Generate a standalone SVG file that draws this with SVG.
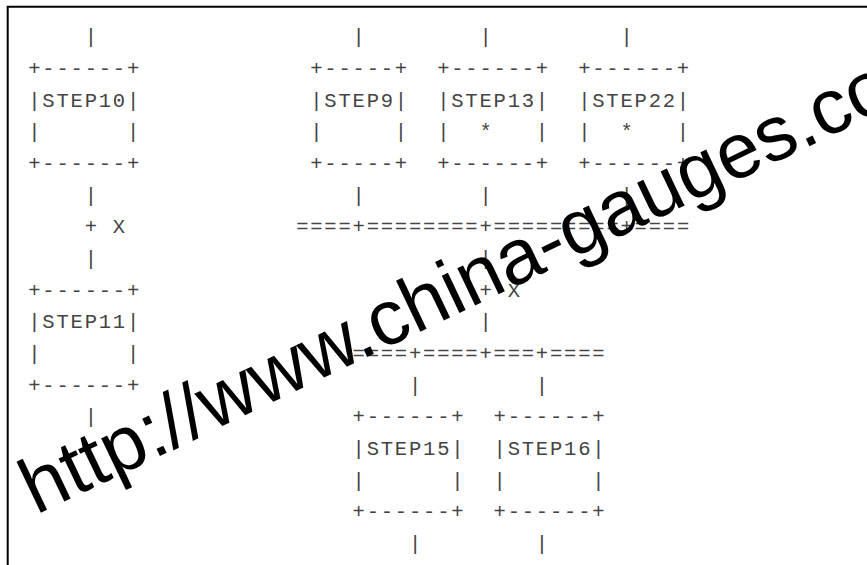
<svg xmlns="http://www.w3.org/2000/svg" width="867" height="565" viewBox="0 0 867 565" xml:space="preserve">
<style>
.t{font-family:"Liberation Mono","Courier New",monospace;font-size:20.5px;letter-spacing:1.8px;fill:#444;white-space:pre}
.wm{font-family:"Liberation Sans",Arial,sans-serif;font-size:78px;fill:#000}
</style>
<rect x="0" y="0" width="867" height="565" fill="#fff"/>
<path d="M7.7,565 V6.7 H867" fill="none" stroke="#000" stroke-width="2"/>
<g transform="translate(1,0)">
<g id="connectors">
<text class="t" x="83.65" y="43.3">|</text>
<text class="t" x="351.55" y="43.3">|</text>
<text class="t" x="478.45" y="43.3">|</text>
<text class="t" x="619.45" y="43.3">|</text>
<text class="t" x="83.65" y="201.7">|</text>
<text class="t" x="351.55" y="201.7">|</text>
<text class="t" x="478.45" y="201.7">|</text>
<text class="t" x="619.45" y="201.7">|</text>
<text class="t" x="83.65" y="233.3">+ X</text>
<text class="t" x="295.15" y="233.3">====+========+=========+====</text>
<text class="t" x="83.65" y="265">|</text>
<text class="t" x="478.45" y="265">|</text>
<text class="t" x="478.45" y="296.7">+ X</text>
<text class="t" x="478.45" y="328.3">|</text>
<text class="t" x="351.55" y="360">====+====+===+====</text>
<text class="t" x="407.95" y="391.7">|</text>
<text class="t" x="534.85" y="391.7">|</text>
<text class="t" x="83.65" y="423.3">|</text>
<text class="t" x="407.95" y="550">|</text>
<text class="t" x="534.85" y="550">|</text>
</g>
<g id="step10">
<text class="t" x="27.25" y="75">+------+</text>
<text class="t" x="27.25" y="106.6">|STEP10|</text>
<text class="t" x="27.25" y="138.3">|      |</text>
<text class="t" x="27.25" y="170">+------+</text>
</g>
<g id="step9">
<text class="t" x="309.25" y="75">+-----+</text>
<text class="t" x="309.25" y="106.6">|STEP9|</text>
<text class="t" x="309.25" y="138.3">|     |</text>
<text class="t" x="309.25" y="170">+-----+</text>
</g>
<g id="step13">
<text class="t" x="436.15" y="75">+------+</text>
<text class="t" x="436.15" y="106.6">|STEP13|</text>
<text class="t" x="436.15" y="138.3">|  *   |</text>
<text class="t" x="436.15" y="170">+------+</text>
</g>
<g id="step22">
<text class="t" x="577.15" y="75">+------+</text>
<text class="t" x="577.15" y="106.6">|STEP22|</text>
<text class="t" x="577.15" y="138.3">|  *   |</text>
<text class="t" x="577.15" y="170">+------+</text>
</g>
<g id="step11">
<text class="t" x="27.25" y="296.7">+------+</text>
<text class="t" x="27.25" y="328.3">|STEP11|</text>
<text class="t" x="27.25" y="360">|      |</text>
<text class="t" x="27.25" y="391.7">+------+</text>
</g>
<g id="step15">
<text class="t" x="351.55" y="423.3">+------+</text>
<text class="t" x="351.55" y="455">|STEP15|</text>
<text class="t" x="351.55" y="486.7">|      |</text>
<text class="t" x="351.55" y="518.4">+------+</text>
</g>
<g id="step16">
<text class="t" x="492.55" y="423.3">+------+</text>
<text class="t" x="492.55" y="455">|STEP16|</text>
<text class="t" x="492.55" y="486.7">|      |</text>
<text class="t" x="492.55" y="518.4">+------+</text>
</g>
</g>
<text class="wm" x="36" y="515" transform="rotate(-25.5 36 515)">http://www.china-gauges.com</text>
</svg>
